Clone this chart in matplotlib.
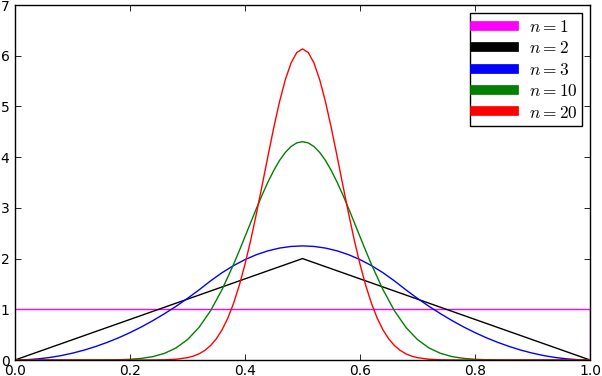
import numpy as np
import matplotlib
matplotlib.use("Agg")
import matplotlib.pyplot as plt

plt.rcParams['mathtext.fontset'] = 'cm'
plt.rcParams['font.family'] = ['DejaVu Sans']

# ---- data ----
labels = ["$n=1$", "$n=2$", "$n=3$", "$n=10$", "$n=20$"]
colors = ["magenta", "black", "blue", "green", "red"]

n1_x = [0.0, 1.0, 1.0]
n1_y = [1.0, 1.0, 0.0]

n2_x = [0.0, 0.5, 1.0]
n2_y = [0.0, 2.0, 0.0]

grid_x = np.linspace(0.0, 1.0, 51)

n3_y = [0, 0.005, 0.022, 0.049, 0.086, 0.135, 0.194, 0.265, 0.346, 0.437,
        0.54, 0.653, 0.778, 0.913, 1.058, 1.215, 1.382, 1.559, 1.721, 1.861,
        1.98, 2.077, 2.153, 2.207, 2.239, 2.25,
        2.239, 2.207, 2.153, 2.077, 1.98, 1.861, 1.721, 1.559, 1.382, 1.215,
        1.058, 0.913, 0.778, 0.653, 0.54, 0.437, 0.346, 0.265, 0.194, 0.135,
        0.086, 0.049, 0.022, 0.005, 0]

n10_x = [0.0, 0.02, 0.04, 0.06, 0.08, 0.10, 0.12, 0.14, 0.16, 0.18, 0.20,
         0.22, 0.24, 0.26, 0.28, 0.30, 0.32, 0.34, 0.36,
         0.38, 0.39, 0.40, 0.41, 0.42, 0.43, 0.44, 0.45, 0.46, 0.47, 0.48,
         0.49, 0.50, 0.51, 0.52, 0.53, 0.54, 0.55, 0.56, 0.57, 0.58, 0.59,
         0.60, 0.61, 0.62,
         0.64, 0.66, 0.68, 0.70, 0.72, 0.74, 0.76, 0.78, 0.80, 0.82, 0.84,
         0.86, 0.88, 0.90, 0.92, 0.94, 0.96, 0.98, 1.0]
n10_y = [0, 0, 0, 0, 0, 0, 0, 0, 0.002, 0.005, 0.014, 0.032, 0.067, 0.131,
         0.237, 0.402, 0.642, 0.969, 1.386,
         1.882, 2.153, 2.432, 2.713, 2.992, 3.260, 3.511, 3.737, 3.933, 4.092,
         4.209, 4.281, 4.305, 4.281, 4.209, 4.092, 3.933, 3.737, 3.511, 3.260,
         2.992, 2.713, 2.432, 2.153, 1.882,
         1.386, 0.969, 0.642, 0.402, 0.237, 0.131, 0.067, 0.032, 0.014, 0.005,
         0.002, 0, 0, 0, 0, 0, 0, 0, 0]

n20_x = [0.0, 0.22, 0.24, 0.26, 0.28,
         0.30, 0.31, 0.32, 0.33, 0.34, 0.35, 0.36, 0.37, 0.38, 0.39, 0.40,
         0.41, 0.42, 0.43, 0.44, 0.45, 0.46, 0.47, 0.48, 0.49, 0.50,
         0.51, 0.52, 0.53, 0.54, 0.55, 0.56, 0.57, 0.58, 0.59, 0.60,
         0.61, 0.62, 0.63, 0.64, 0.65, 0.66, 0.67, 0.68, 0.69, 0.70,
         0.72, 0.74, 0.76, 0.78, 1.0]
n20_y = [0, 0, 0.001, 0.004, 0.015,
         0.046, 0.076, 0.121, 0.188, 0.284, 0.416, 0.593, 0.823, 1.114, 1.469,
         1.888, 2.367, 2.895, 3.456, 4.027, 4.581, 5.090, 5.523, 5.855, 6.063,
         6.134,
         6.063, 5.855, 5.523, 5.090, 4.581, 4.027, 3.456, 2.895, 2.367, 1.888,
         1.469, 1.114, 0.823, 0.593, 0.416, 0.284, 0.188, 0.121, 0.076, 0.046,
         0.015, 0.004, 0.001, 0, 0]

x_ticks = [0.0, 0.2, 0.4, 0.6, 0.8, 1.0]
y_ticks = [0, 1, 2, 3, 4, 5, 6, 7]

# ---- figure ----
fig = plt.figure(figsize=(6.02, 3.76), dpi=100)
ax = fig.add_axes([15 / 602, 16 / 376, 575 / 602, 355 / 376])

series = [(n1_x, n1_y), (n2_x, n2_y), (grid_x, n3_y), (n10_x, n10_y), (n20_x, n20_y)]
for (xs, ys), c, lab in zip(series, colors, labels):
    ax.plot(xs, ys, color=c, lw=1.0, label=lab)

ax.set_xlim(0, 1)
ax.set_ylim(0, 7)
ax.set_xticks(x_ticks)
ax.set_xticklabels([f"{v:.1f}" for v in x_ticks])
ax.set_yticks(y_ticks)
ax.tick_params(direction='in', length=4.5, width=0.6, top=True, right=True,
               labelsize=10, pad=3, colors='black')
ax.tick_params(axis='y', pad=4)
for s in ax.spines.values():
    s.set_linewidth(1.0)
    s.set_color('black')

leg = ax.legend(loc='upper right', fontsize=12.5, fancybox=False, framealpha=1,
                edgecolor='black', handlelength=2.25, handletextpad=0.85,
                labelspacing=0.2, borderaxespad=0.45, borderpad=0.28)
leg.get_frame().set_linewidth(1.0)
for ln in leg.get_lines():
    ln.set_linewidth(7)

fig.savefig("out.png", dpi=100)
